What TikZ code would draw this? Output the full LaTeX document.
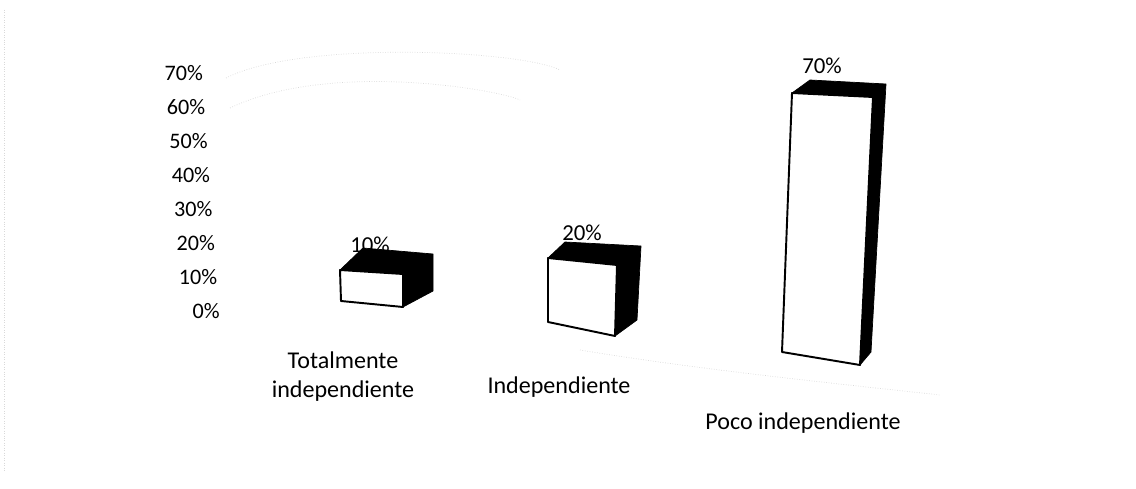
\documentclass[tikz,border=0pt]{standalone}
\usepackage{fontspec}
\setmainfont{Carlito}
\usepackage{tikz}
\usetikzlibrary{positioning}

\begin{document}
\begin{tikzpicture}[x=0.02cm, y=-0.02cm,
  tick/.style={anchor=east, font=\fontsize{12.6}{15}\selectfont, inner sep=0pt},
  cat/.style={anchor=north, font=\fontsize{13.7}{17}\selectfont, align=center, inner sep=0pt},
  val/.style={anchor=south, font=\fontsize{13}{15}\selectfont, inner sep=0pt},
  shade/.style={fill=black, draw=black, line join=round},
  face/.style={fill=white, draw=black, line width=1.1pt, line join=round},
  faint/.style={gray!30, densely dotted, line width=0.4pt}]
\useasboundingbox (0,0) rectangle (1136,489);

% Faint remains of the grid
\draw[faint] (4,10) -- (4,470);
\draw[faint] (226,78) .. controls (300,40) and (520,50) .. (560,70);
\draw[faint] (230,108) .. controls (330,60) and (500,90) .. (520,100);
\draw[faint] (580,350) .. controls (700,370) and (850,385) .. (940,395);

% Value axis
\foreach \v [count=\i from 0] in {0,10,...,70}
  \node[tick] (t\v) at (220-2.4*\i, 311-34*\i) {\v\%};

% Bar: Totalmente independiente
\fill[shade] (340,270) -- (363,248) -- (433,254) -- (433,291) -- (403,307) -- cycle;
\draw[face] (340,270) -- (403,274) -- (403,307) -- (341,301) -- cycle;
\node[val] (v1) at (370,253) {10\%};

% Bar: Independiente
\fill[shade] (548,258) -- (565,242) -- (641,246) -- (637,320) -- (615,336) -- cycle;
\draw[face] (548,258) -- (617,265) -- (615,336) -- (548,322) -- cycle;
\node[val] (v2) at (582,241) {20\%};

% Bar: Poco independiente
\fill[shade] (792,93) -- (810,80) -- (886,84) -- (871,352) -- (860,365) -- cycle;
\draw[face] (792,93) -- (873,97) -- (860,365) -- (782,352) -- cycle;
\node[val] (v3) at (822,74) {70\%};

% Category labels
\node[cat] (c1) at (343,351) {Totalmente\\independiente};
\node[cat] (c2) at (559,376) {Independiente};
\node[cat] (c3) at (803,412) {Poco independiente};
\end{tikzpicture}
\end{document}
